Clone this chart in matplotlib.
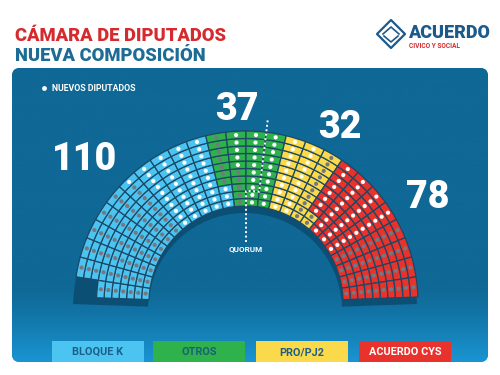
import numpy as np
import matplotlib.pyplot as plt
from matplotlib.patches import Wedge, FancyBboxPatch, Rectangle, Polygon

# Data
parties   = ['BLOQUE K', 'OTROS', 'PRO/PJ2', 'ACUERDO CYS']
seats     = [110, 37, 32, 78]
new_seats = [44, 25, 20, 38]           # seats with a white dot (nuevos diputados)
new_side  = ['right', 'right', 'left', 'left']
quorum    = 129
n_rows    = 10

# Colours
seat_colors  = ['#4cc4f1', '#2fb24c', '#fad94a', '#e8322b']
label_colors = ['#1d5f88', '#17617a', '#1d5f88', 'white']
PANEL   = '#0f6895'
SHADOW  = '#0b4f74'
GRID    = '#1b4866'
GRAYDOT = '#767880'
TRED    = '#d52b2f'
TBLUE   = '#1c6c95'

# Layout (pixels, y down)
W, H = 500, 375
CX, CY = 246, 303
R_IN, R_OUT = 97, 172
A_LEFT, A_RIGHT = 178.0, 2.0
FONT = ['Roboto', 'DejaVu Sans']
number_xy = [(85, 160), (237, 110), (340, 127), (428, 197)]
box_x = [52, 153, 256, 359]
BOX_W, BOX_Y, BOX_H = 92, 341, 21

fig = plt.figure(figsize=(W / 100, H / 100), dpi=100)
ax = fig.add_axes([0, 0, 1, 1])
ax.set_xlim(0, W)
ax.set_ylim(H, 0)
ax.axis('off')

# Titles
ax.text(15, 41, 'CÁMARA DE DIPUTADOS', color=TRED, fontsize=13.2, fontweight='heavy',
        family=FONT, va='baseline')
ax.text(15, 61, 'NUEVA COMPOSICIÓN', color=TBLUE, fontsize=13.2, fontweight='heavy',
        family=FONT, va='baseline')

# Logo
ax.add_patch(Polygon([(391, 20), (405, 34), (391, 48), (377, 34)], closed=True,
                     fill=False, ec='#1d5a8c', lw=1.6, joinstyle='round'))
ax.plot([383, 391, 399], [34, 27, 34], color='#1d5a8c', lw=1.2)
ax.plot([384, 391, 398], [36, 42, 36], color='#1d5a8c', lw=1.2)
ax.text(408, 38, 'ACUERDO', color='#1d5a8c', fontsize=13, fontweight='heavy',
        family=FONT, va='baseline')
ax.text(409, 47.5, 'CIVICO Y SOCIAL', color=TRED, fontsize=4.8, fontweight='bold',
        family=FONT, va='baseline')

# Panel with gradient towards the bottom
panel = FancyBboxPatch((12, 68), 476, 294, boxstyle='round,pad=0,rounding_size=8',
                       fc=PANEL, ec='none')
ax.add_patch(panel)
yy = np.linspace(68, 362, 300)
t = np.clip((yy - 285) / (362 - 285), 0, 1) ** 1.3
top = np.array([0x0f, 0x68, 0x95]) / 255
bot = np.array([0x1a, 0x95, 0xd3]) / 255
img = top[None, None, :] * (1 - t[:, None, None]) + bot[None, None, :] * t[:, None, None]
im = ax.imshow(img, extent=(12, 488, 362, 68), aspect='auto', zorder=1)
im.set_clip_path(panel)

# Seat slots: columns from left to right, rows from inner to outer
total = sum(seats)
n_cols = int(np.ceil(total / n_rows))
first = total - (n_cols - 1) * n_rows
slots = [(0, r) for r in range(first)] + \
        [(c, r) for c in range(1, n_cols) for r in range(n_rows)]
party_of = np.repeat(np.arange(len(seats)), seats)
is_new = np.zeros(total, dtype=bool)
start = 0
for p, n in enumerate(seats):
    idx = np.arange(start, start + n)
    k = new_seats[p]
    is_new[idx[-k:] if new_side[p] == 'right' else idx[:k]] = True
    start += n

cw = (A_LEFT - A_RIGHT) / n_cols
dr = (R_OUT - R_IN) / n_rows

def col_edges(c):
    return A_LEFT - c * cw, A_LEFT - (c + 1) * cw

# Shadow under the hemicycle
ax.add_patch(Wedge((CX - 1, CY + 7), R_OUT, -A_LEFT, -A_RIGHT, width=R_OUT - R_IN,
                   fc=SHADOW, ec='none', zorder=2))

dot_x, dot_y, dot_c = [], [], []
for i, (c, r) in enumerate(slots):
    a_l, a_r = col_edges(c)
    r_lo = R_IN + r * dr
    ax.add_patch(Wedge((CX, CY), r_lo + dr, -a_l, -a_r, width=dr,
                       fc=seat_colors[party_of[i]], ec=GRID, lw=0.9, zorder=3))
    am = np.radians((a_l + a_r) / 2)
    rm = r_lo + dr / 2
    dot_x.append(CX + rm * np.cos(am))
    dot_y.append(CY - rm * np.sin(am))
    dot_c.append('white' if is_new[i] else GRAYDOT)
ax.scatter(dot_x, dot_y, s=9, c=dot_c, lw=0, zorder=4)

# Quorum line along the seat boundary
qc, qr = slots[quorum - 1]
a_l, a_r = col_edges(qc)
r_step = R_IN + (qr + 1) * dr
arc = np.radians(np.linspace(a_l, a_r, 20))
px = [CX + 61 * np.cos(np.radians(a_l))] + [CX + R_IN * np.cos(np.radians(a_l))] + \
     list(CX + r_step * np.cos(arc)) + [CX + (R_OUT + 12) * np.cos(np.radians(a_r))]
py = [CY - 61 * np.sin(np.radians(a_l))] + [CY - R_IN * np.sin(np.radians(a_l))] + \
     list(CY - r_step * np.sin(arc)) + [CY - (R_OUT + 12) * np.sin(np.radians(a_r))]
ax.plot(px, py, color='white', lw=1.4, ls=(0, (1, 1.3)), zorder=5)
ax.text(CX, 249, 'QUORUM', color='white', fontsize=5.8, fontweight='bold',
        family=FONT, ha='center', va='center', zorder=5)

# Seat totals
for p, n in enumerate(seats):
    ax.text(number_xy[p][0], number_xy[p][1], str(n), color='white', fontsize=27,
            fontweight='heavy', family=FONT, ha='center', va='center', zorder=6)

# Nuevos diputados key
ax.scatter([44], [88], s=12, c='white', lw=0, zorder=6)
ax.text(52, 88.5, 'NUEVOS DIPUTADOS', color='white', fontsize=6.3, fontweight='bold',
        family=FONT, va='center', zorder=6)

# Party boxes
for p, name in enumerate(parties):
    ax.add_patch(Rectangle((box_x[p], BOX_Y), BOX_W, BOX_H, fc=seat_colors[p],
                           ec='none', zorder=6))
    ax.text(box_x[p] + BOX_W / 2, BOX_Y + BOX_H / 2 + 0.5, name, color=label_colors[p],
            fontsize=7.8, fontweight='bold', family=FONT, ha='center', va='center',
            zorder=7)

fig.savefig('out.png', dpi=100, facecolor='white')
